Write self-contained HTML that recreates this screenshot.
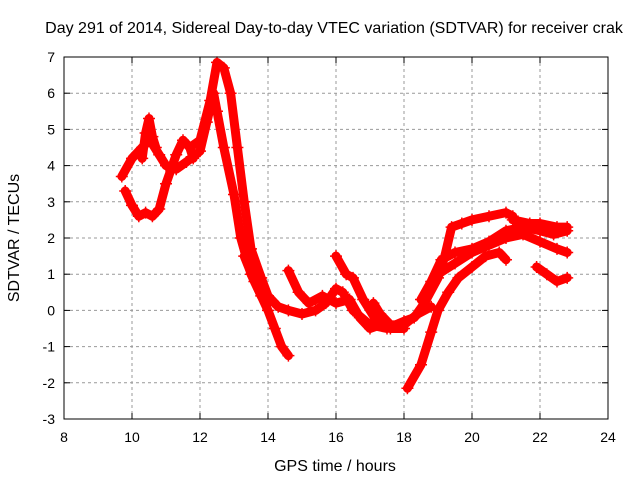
<!DOCTYPE html>
<html><head><meta charset="utf-8"><style>
body{margin:0;background:#fff}
svg{display:block;font-family:"Liberation Sans",sans-serif}
</style></head><body>
<svg id="chart" width="640" height="480">
<text x="334" y="33" text-anchor="middle" font-size="16">Day 291 of 2014, Sidereal Day-to-day VTEC variation (SDTVAR) for receiver crak</text>
<text x="335" y="471" text-anchor="middle" font-size="16">GPS time / hours</text>
<text transform="translate(19,238) rotate(-90)" text-anchor="middle" font-size="16">SDTVAR / TECUs</text>
<g id="grid"></g><g id="data"></g><g id="axes"></g>
</svg>
<script>
const xTicks=[8,10,12,14,16,18,20,22,24];
const yTicks=[-3,-2,-1,0,1,2,3,4,5,6,7];
const trackA_t=[9.7,10,10.3,10.5,10.6,10.8,11,11.3,11.6,12,12.2,12.4,12.5,12.7,13,13.2,13.5,13.8,14];
const trackA_v=[3.7,4.2,4.5,4.7,4.6,4.3,4.0,3.9,4.1,4.4,5.2,6.0,5.5,4.5,3.2,2.0,1.0,0.4,0.2];
const trackB_t=[9.8,10,10.2,10.4,10.6,10.8,11,11.3,11.5,11.7,11.8];
const trackB_v=[3.3,2.9,2.6,2.7,2.6,2.8,3.5,4.3,4.7,4.5,4.2];
const trackS_t=[10.3,10.4,10.5,10.6,10.7];
const trackS_v=[4.2,4.9,5.3,4.8,4.5];
const trackC_t=[11.7,12,12.3,12.5,12.7,12.9,13.1,13.3,13.5,13.8,14,14.3,14.6,15,15.4,15.7,16,16.2,16.5,17,17.5,18,18.3,18.6,19,19.2,19.4,19.7,20,20.5,21,21.2];
const trackC_v=[4.5,4.7,5.8,6.85,6.7,6.0,4.5,3.0,1.7,0.9,0.4,0.1,0.0,-0.1,0.0,0.2,0.6,0.5,0.0,-0.4,-0.5,-0.3,-0.2,0.2,0.9,1.5,2.3,2.4,2.5,2.6,2.7,2.6];
const trackD_t=[13.3,13.6,14,14.2,14.4,14.6];
const trackD_v=[1.5,0.8,0.0,-0.5,-1.0,-1.25];
const trackE_t=[14.6,14.9,15.2,15.6,16,16.4,16.7,17,17.3];
const trackE_v=[1.1,0.5,0.2,0.4,0.2,0.3,-0.2,-0.5,-0.4];
const trackF_t=[16,16.3,16.5,16.8,17.2,17.6,18];
const trackF_v=[1.5,1.0,0.9,0.3,-0.3,-0.5,-0.5];
const trackG_t=[17.1,17.3,17.6,18,18.4,18.8];
const trackG_v=[0.2,-0.1,-0.4,-0.4,-0.1,0.1];
const trackL_t=[18.1,18.5,18.8,19,19.3,19.6,20,20.4,20.8,21.0];
const trackL_v=[-2.15,-1.5,-0.6,0.0,0.5,0.9,1.2,1.5,1.6,1.4];
const trackH_t=[18.5,18.8,19.1,19.5,20,20.5,21,21.5,22,22.4,22.8];
const trackH_v=[0.3,0.8,1.4,1.6,1.7,1.9,2.2,2.3,2.2,2.1,2.2];
const trackI_t=[19,19.5,20,20.5,21,21.5,22,22.5,22.8];
const trackI_v=[1.0,1.3,1.6,1.8,2.0,2.1,1.9,1.7,1.6];
const trackJ_t=[21.9,22.2,22.5,22.8];
const trackJ_v=[1.2,1.0,0.8,0.9];
const trackK_t=[21.2,21.7,22,22.5,22.8];
const trackK_v=[2.5,2.4,2.4,2.3,2.3];
const tracks=[[trackA_t,trackA_v],[trackB_t,trackB_v],[trackS_t,trackS_v],[trackC_t,trackC_v],[trackD_t,trackD_v],[trackE_t,trackE_v],[trackF_t,trackF_v],[trackG_t,trackG_v],[trackL_t,trackL_v],[trackH_t,trackH_v],[trackI_t,trackI_v],[trackJ_t,trackJ_v],[trackK_t,trackK_v]];
const X0=64,X1=608,Y0=419,Y1=57;
const xs=t=>X0+(t-8)/(24-8)*(X1-X0);
const ys=v=>Y0-(v+3)/10*(Y0-Y1);
const NS="http://www.w3.org/2000/svg";
function mk(tag,attrs,parent){const e=document.createElementNS(NS,tag);for(const k in attrs)e.setAttribute(k,attrs[k]);parent.appendChild(e);return e;}
const grid=document.getElementById('grid'),axes=document.getElementById('axes'),data=document.getElementById('data');
xTicks.forEach(t=>{const x=xs(t);
 if(t>8&&t<24){const l=mk('line',{x1:x,x2:x,y1:Y1,y2:Y0,stroke:'#999','stroke-dasharray':'3,3'},grid);
 
 }
 mk('line',{x1:x,x2:x,y1:Y0,y2:Y0-6,stroke:'#000'},axes);
 mk('line',{x1:x,x2:x,y1:Y1,y2:Y1+6,stroke:'#000'},axes);
 const tx=mk('text',{x:x,y:Y0+23,'text-anchor':'middle','font-size':'14'},axes);tx.textContent=t;
 
 });
yTicks.forEach(v=>{const y=ys(v);
 if(v>-3&&v<7){const l=mk('line',{x1:X0,x2:X1,y1:y,y2:y,stroke:'#999','stroke-dasharray':'3,3'},grid);
 
 }
 mk('line',{x1:X0,x2:X0+6,y1:y,y2:y,stroke:'#000'},axes);
 mk('line',{x1:X1,x2:X1-6,y1:y,y2:y,stroke:'#000'},axes);
 const tx=mk('text',{x:X0-9,y:y+5,'text-anchor':'end','font-size':'14'},axes);tx.textContent=v;
 
 });
const border=mk('rect',{x:X0,y:Y1,width:X1-X0,height:Y0-Y1,fill:'none',stroke:'#000'},axes);


tracks.forEach(([T,V])=>{
 const pts=T.map((t,i)=>xs(t)+','+ys(V[i])).join(' ');
 const pl=mk('polyline',{points:pts,fill:'none',stroke:'#f00','stroke-width':9,'stroke-linejoin':'round','stroke-linecap':'round'},data);
 
 
 T.forEach((t,i)=>{const x=xs(t),y=ys(V[i]);
  const p=mk('path',{d:`M${x-6},${y}H${x+6}M${x},${y-6}V${y+6}`,stroke:'#f00','stroke-width':1.5},data);
  
  });
});
</script>
</body></html>
